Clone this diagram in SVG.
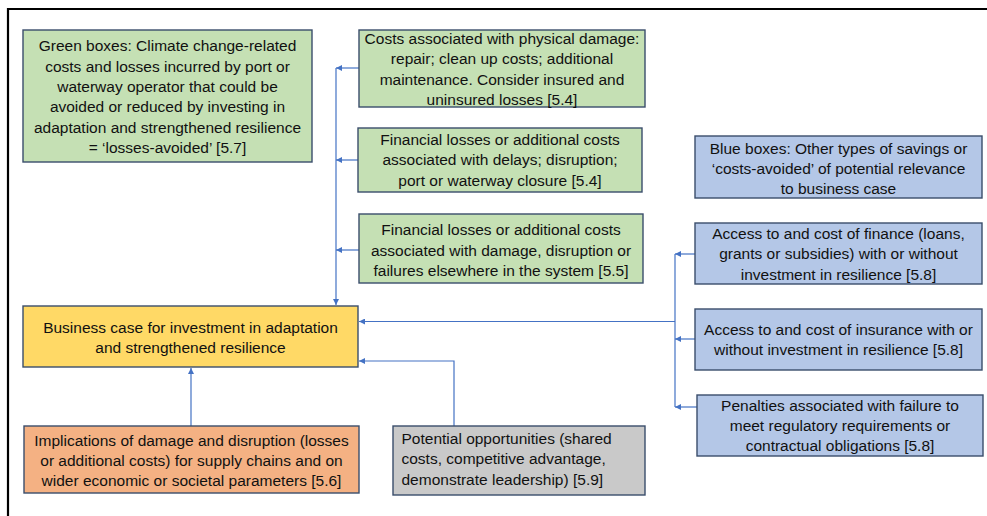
<svg xmlns="http://www.w3.org/2000/svg" width="987" height="516" viewBox="0 0 987 516">
<defs>
<style>
.box{stroke:#3A4D6B;stroke-width:1.4}
.g{fill:#C5E0B4}.b{fill:#B4C7E7}.y{fill:#FFD966}.o{fill:#F4B183}.gr{fill:#C9C9C9}
text{font-family:"Liberation Sans",Arial,sans-serif;font-size:15.5px;fill:#111}
.c{text-anchor:middle}
.ln{fill:none;stroke:#4472C4;stroke-width:1.2}
</style>
<marker id="ah" viewBox="0 0 10 10" refX="10" refY="5" markerWidth="6" markerHeight="6" orient="auto" markerUnits="userSpaceOnUse">
<path d="M0,0 L10,5 L0,10 z" fill="#4472C4"/>
</marker>
</defs>
<rect width="987" height="516" fill="#fff"/>
<path d="M8,516 V9 H987" fill="none" stroke="#000" stroke-width="2.2"/>

<g id="connectors">
<path class="ln" d="M359,68 H336" marker-end="url(#ah)"/>
<path class="ln" d="M358,160 H336" marker-end="url(#ah)"/>
<path class="ln" d="M359,250 H336" marker-end="url(#ah)"/>
<path class="ln" d="M336,68 V305" marker-end="url(#ah)"/>
<path class="ln" d="M695,254 H675" marker-end="url(#ah)"/>
<path class="ln" d="M695,339 H675" marker-end="url(#ah)"/>
<path class="ln" d="M697,407 H675" marker-end="url(#ah)"/>
<path class="ln" d="M675,254 V407"/>
<path class="ln" d="M675,321.5 H359" marker-end="url(#ah)"/>
<path class="ln" d="M454,426 V361 H359" marker-end="url(#ah)"/>
<path class="ln" d="M191,426 V368" marker-end="url(#ah)"/>
</g>

<g id="legend-green">
<rect class="box g" x="23" y="30" width="289" height="132"/>
<text class="c" x="167.5" y="51">Green boxes: Climate change-related</text>
<text class="c" x="167.5" y="71.5">costs and losses incurred by port or</text>
<text class="c" x="167.5" y="92">waterway operator that could be</text>
<text class="c" x="167.5" y="112">avoided or reduced by investing in</text>
<text class="c" x="167.5" y="132.5">adaptation and strengthened resilience</text>
<text class="c" x="167.5" y="153">= ‘losses-avoided’ [5.7]</text>
</g>

<g id="green-physical">
<rect class="box g" x="359" y="30" width="286" height="77"/>
<text class="c" x="502" y="43.5">Costs associated with physical damage:</text>
<text class="c" x="502" y="64">repair; clean up costs; additional</text>
<text class="c" x="502" y="84.5">maintenance. Consider insured and</text>
<text class="c" x="502" y="105">uninsured losses [5.4]</text>
</g>

<g id="green-delays">
<rect class="box g" x="358" y="128" width="284" height="64"/>
<text class="c" x="500" y="144.5">Financial losses or additional costs</text>
<text class="c" x="500" y="165">associated with delays; disruption;</text>
<text class="c" x="500" y="185.5">port or waterway closure [5.4]</text>
</g>

<g id="green-system">
<rect class="box g" x="359" y="214" width="284" height="69"/>
<text class="c" x="501" y="235">Financial losses or additional costs</text>
<text class="c" x="501" y="255.5">associated with damage, disruption or</text>
<text class="c" x="501" y="276">failures elsewhere in the system [5.5]</text>
</g>

<g id="business-case">
<rect class="box y" x="23" y="306" width="335" height="61"/>
<text class="c" x="190.5" y="333">Business case for investment in adaptation</text>
<text class="c" x="190.5" y="353">and strengthened resilience</text>
</g>

<g id="orange-implications">
<rect class="box o" x="24" y="426" width="335" height="67"/>
<text class="c" x="191.5" y="445.5">Implications of damage and disruption (losses</text>
<text class="c" x="191.5" y="465.5">or additional costs) for supply chains and on</text>
<text class="c" x="191.5" y="485.5">wider economic or societal parameters [5.6]</text>
</g>

<g id="gray-opportunities">
<rect class="box gr" x="393" y="426" width="252" height="69"/>
<text x="401.5" y="443.5">Potential opportunities (shared</text>
<text x="401.5" y="464">costs, competitive advantage,</text>
<text x="401.5" y="484.5">demonstrate leadership) [5.9]</text>
</g>

<g id="legend-blue">
<rect class="box b" x="695" y="136" width="287" height="62"/>
<text class="c" x="838.5" y="153.5">Blue boxes: Other types of savings or</text>
<text class="c" x="838.5" y="173.5">‘costs-avoided’ of potential relevance</text>
<text class="c" x="838.5" y="193.5">to business case</text>
</g>

<g id="blue-finance">
<rect class="box b" x="695" y="223" width="287" height="61"/>
<text class="c" x="838.5" y="238.5">Access to and cost of finance (loans,</text>
<text class="c" x="838.5" y="259">grants or subsidies) with or without</text>
<text class="c" x="838.5" y="279.5">investment in resilience [5.8]</text>
</g>

<g id="blue-insurance">
<rect class="box b" x="695" y="309" width="287" height="61"/>
<text class="c" x="838.5" y="334.5">Access to and cost of insurance with or</text>
<text class="c" x="838.5" y="354.5">without investment in resilience [5.8]</text>
</g>

<g id="blue-penalties">
<rect class="box b" x="697" y="395" width="286" height="61"/>
<text class="c" x="840" y="411">Penalties associated with failure to</text>
<text class="c" x="840" y="431">meet regulatory requirements or</text>
<text class="c" x="840" y="451">contractual obligations [5.8]</text>
</g>
</svg>
